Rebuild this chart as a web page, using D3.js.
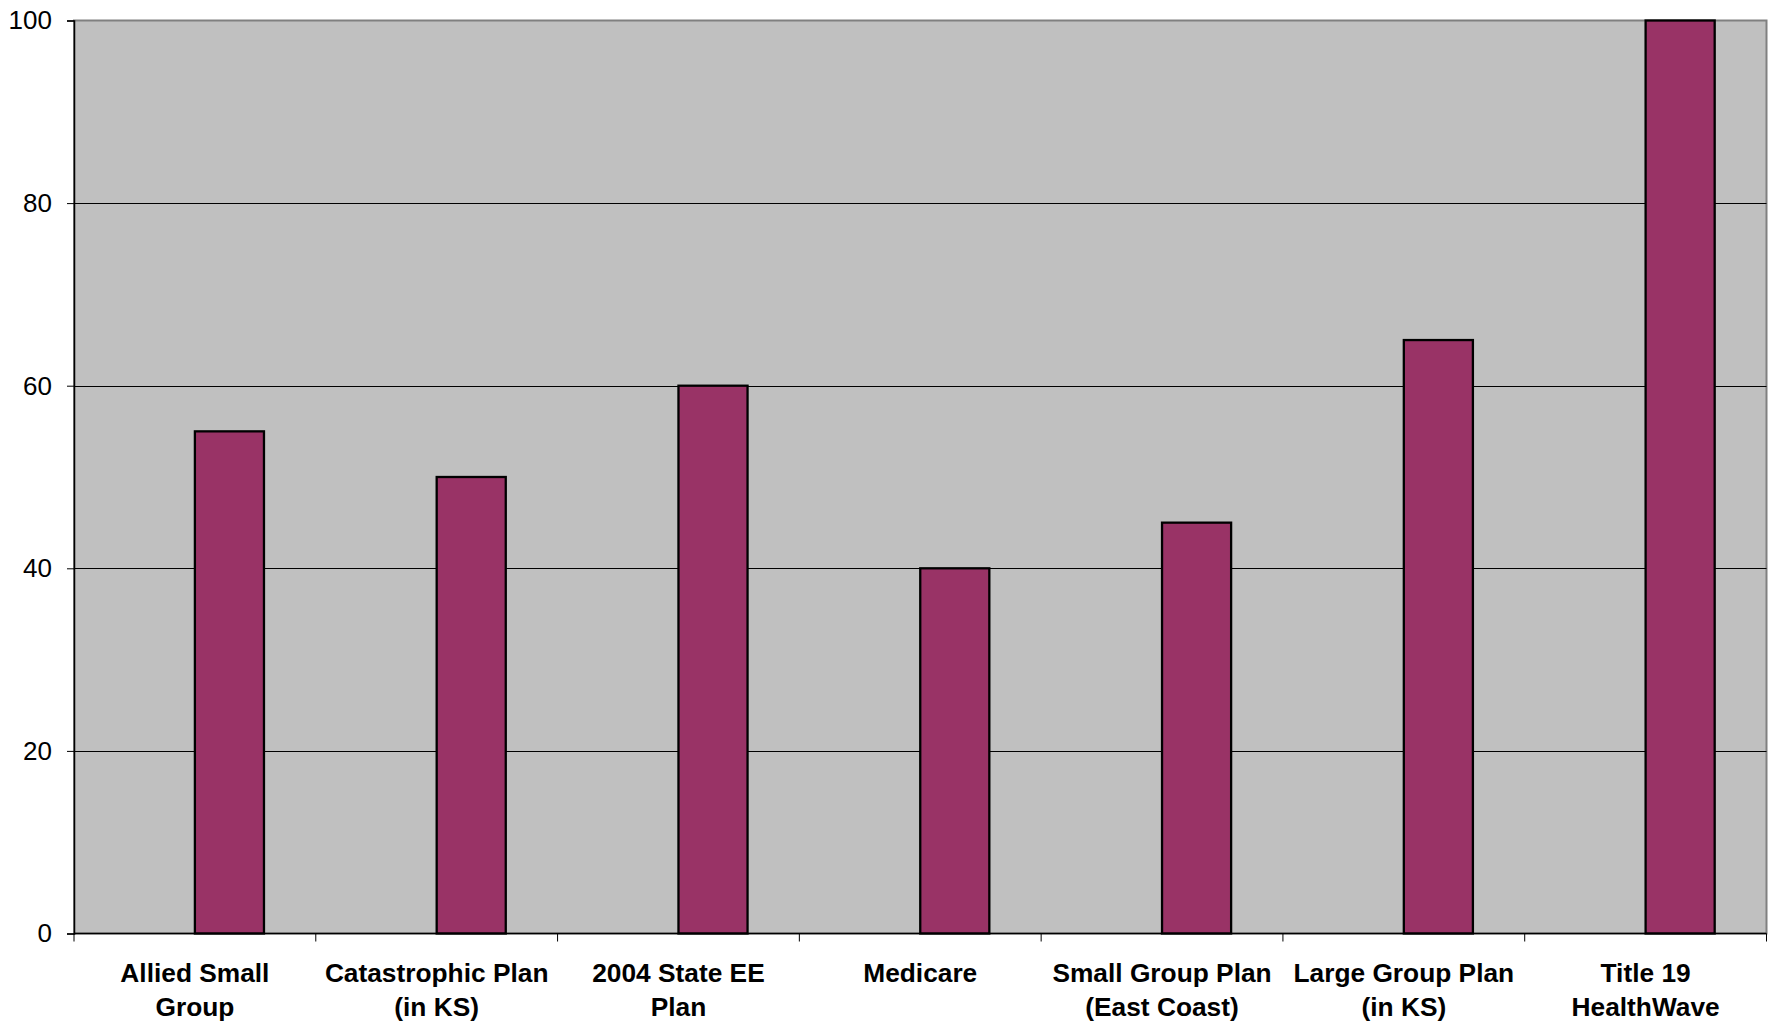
<!DOCTYPE html>
<html>
<head>
<meta charset="utf-8">
<script src="https://cdn.jsdelivr.net/npm/d3@7"></script>
<style>
  html, body { margin: 0; padding: 0; background: #fff; }
  svg { display: block; }
  text { font-family: "Liberation Sans", Arial, sans-serif; fill: #000; }
</style>
</head>
<body>
<svg id="chart" width="1769" height="1024"></svg>
<script>
const categories = [
  ["Allied Small", "Group"],
  ["Catastrophic Plan", "(in KS)"],
  ["2004 State EE", "Plan"],
  ["Medicare"],
  ["Small Group Plan", "(East Coast)"],
  ["Large Group Plan", "(in KS)"],
  ["Title 19", "HealthWave"]
];
const values = [55, 50, 60, 40, 45, 65, 100];
const yTicks = [0, 20, 40, 60, 80, 100];

(function () {
const svg = d3.select("#chart");
const pL = 74, pR = 1766.5, pT = 20.5, pB = 933.5;
const keys = categories.map(c => c.join(" "));

const x = d3.scaleBand().domain(keys).range([pL, pR]).padding(0);
const y = d3.scaleLinear().domain([0, 100]).range([pB, pT]);
const bw = x.bandwidth();
const barW = bw / 3.5;

// plot background
svg.append("rect")
  .attr("x", pL).attr("y", pT)
  .attr("width", pR - pL).attr("height", pB - pT)
  .attr("fill", "#C0C0C0")
  .attr("stroke", "#808080").attr("stroke-width", 2);

// gridlines
svg.append("g").selectAll("line")
  .data(yTicks.filter(t => t > 0 && t < 100))
  .join("line")
  .attr("x1", pL).attr("x2", pR)
  .attr("y1", d => Math.round(y(d)) + 0.5).attr("y2", d => Math.round(y(d)) + 0.5)
  .attr("stroke", "#000").attr("stroke-width", 1);

// bars
svg.append("g").selectAll("rect")
  .data(values)
  .join("rect")
  .attr("x", (d, i) => x(keys[i]) + bw / 2)
  .attr("y", d => y(d))
  .attr("width", barW)
  .attr("height", d => y(0) - y(d))
  .attr("fill", "#993366")
  .attr("stroke", "#000")
  .attr("stroke-width", 2.3);

// y axis
const yAxis = d3.axisLeft(y).tickValues(yTicks).tickSize(7).tickPadding(15).tickFormat(d3.format("d"));
const gy = svg.append("g").attr("transform", `translate(${pL},0)`).call(yAxis);
gy.select(".domain").attr("stroke", "#000").attr("stroke-width", 1.5);
gy.selectAll(".tick line").attr("stroke", "#000");
gy.selectAll(".tick text").attr("font-size", 26).attr("font-family", "'Liberation Sans', Arial, sans-serif").attr("fill", "#000");

// x axis ticks at category boundaries
const boundaries = keys.map(k => x(k)).concat([pR]);
svg.append("line")
  .attr("x1", pL).attr("x2", pR)
  .attr("y1", pB).attr("y2", pB)
  .attr("stroke", "#000").attr("stroke-width", 1.5);
svg.append("g").selectAll("line")
  .data(boundaries)
  .join("line")
  .attr("x1", d => d).attr("x2", d => d)
  .attr("y1", pB).attr("y2", pB + 8)
  .attr("stroke", "#000").attr("stroke-width", 1);

// x labels
const lbl = svg.append("g").selectAll("text")
  .data(categories)
  .join("text")
  .attr("text-anchor", "middle")
  .attr("font-weight", "bold")
  .attr("font-size", 26.3)
  .attr("x", (d, i) => x(keys[i]) + bw / 2)
  .attr("y", 982);
lbl.selectAll("tspan")
  .data((d, i) => d.map(s => ({ s, cx: x(keys[i]) + bw / 2 })))
  .join("tspan")
  .attr("x", d => d.cx)
  .attr("dy", (d, j) => j === 0 ? 0 : 34)
  .text(d => d.s);
})();
</script>
</body>
</html>
